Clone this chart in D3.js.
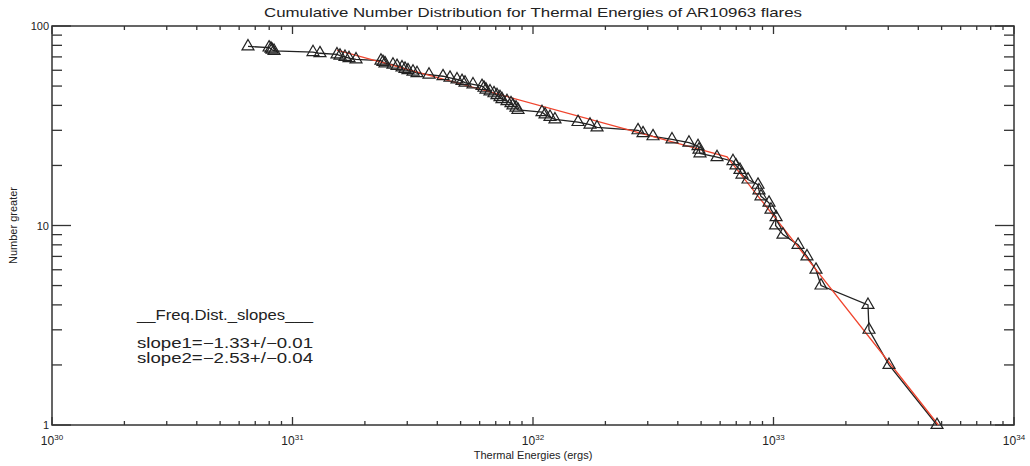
<!DOCTYPE html>
<html>
<head>
<meta charset="utf-8">
<script src="https://cdn.jsdelivr.net/npm/d3@7"></script>
<style>
  body { margin: 0; background: #fff; }
  svg { display: block; }
  text { font-family: "Liberation Sans", Arial, sans-serif; fill: #222; }
</style>
</head>
<body>
<svg id="chart" width="1030" height="466"></svg>
<script>
// ---------------- data ----------------
const energies = [
  6.53e30, 7.99e30, 8.14e30, 8.22e30, 8.38e30, 1.217e31, 1.301e31, 1.531e31, 1.576e31, 1.653e31,
  1.718e31, 1.837e31, 2.333e31, 2.378e31, 2.424e31, 2.617e31, 2.720e31, 2.853e31, 2.936e31, 3.021e31,
  3.170e31, 3.294e31, 3.695e31, 4.225e31, 4.517e31, 4.831e31, 5.068e31, 5.216e31, 5.630e31, 6.137e31,
  6.256e31, 6.377e31, 6.626e31, 6.884e31, 7.085e31, 7.291e31, 7.432e31, 7.796e31, 8.100e31, 8.256e31,
  8.497e31, 8.661e31, 1.090e32, 1.122e32, 1.177e32, 1.234e32, 1.539e32, 1.726e32, 1.846e32, 2.733e32,
  2.867e32, 3.155e32, 3.784e32, 4.452e32, 4.855e32, 4.900e32, 4.948e32, 5.823e32, 6.785e32, 6.983e32,
  7.255e32, 7.396e32, 7.834e32, 8.620e32, 8.703e32, 8.871e32, 9.579e32, 9.763e32, 1.025e33, 1.020e33,
  1.095e33, 1.265e33, 1.378e33, 1.502e33, 1.576e33, 2.471e33, 2.495e33, 3.022e33, 4.785e33
];
const counts = [
  79, 78, 77, 76, 75, 74, 73, 72, 71, 70,
  69, 68, 67, 66, 65, 64, 63, 62, 61, 60,
  59, 58, 57, 56, 55, 54, 53, 52, 51, 50,
  49, 48, 47, 46, 45, 44, 43, 42, 41, 40,
  39, 38, 37, 36, 35, 34, 33, 32, 31, 30,
  29, 28, 27, 26, 25, 24, 23, 22, 21, 20,
  19, 18, 17, 16, 15, 14, 13, 12, 11, 10,
  9, 8, 7, 6, 5, 4, 3, 2, 1
];
// broken power-law fit (red)
const fitEnergies = [1.53e31, 6.41e32, 4.85e33];
const fitCounts = [75.8, 22.1, 1.0];

const xDomain = [1e30, 1e34];
const yDomain = [1, 100];
const xMajorTicks = [1e30, 1e31, 1e32, 1e33, 1e34];
const xTickExponents = ["30", "31", "32", "33", "34"];
const yMajorTicks = [1, 10, 100];
const yTickLabels = ["1", "10", "100"];

const titleText = "Cumulative Number Distribution for Thermal Energies of AR10963 flares";
const xLabel = "Thermal Energies (ergs)";
const yLabel = "Number greater";
const legendLines = ["__Freq.Dist._slopes___", "slope1=\u22121.33+/\u22120.01", "slope2=\u22122.53+/\u22120.04"];

// ---------------- layout ----------------
const L = 52, R = 1014, T = 26, B = 425;
const svg = d3.select("#chart");
const x = d3.scaleLog().domain(xDomain).range([L, R]);
const y = d3.scaleLog().domain(yDomain).range([B, T]);

const axisColor = "#333";

function minors(domain) {
  const out = [];
  for (let e = Math.log10(domain[0]); e < Math.log10(domain[1]); e++) {
    for (let m = 2; m <= 9; m++) out.push(m * Math.pow(10, e));
  }
  return out;
}
const xMinor = minors(xDomain);
const yMinor = minors(yDomain);

const xMajLen = 8, xMinLen = 4, yMajLen = 19, yMinLen = 10;

const g = svg.append("g").attr("stroke", axisColor).attr("stroke-width", 1.3);
[[B, -1], [T, 1]].forEach(([yy, dir]) => {
  g.selectAll(null).data(xMajorTicks).enter().append("line")
    .attr("x1", d => x(d)).attr("x2", d => x(d))
    .attr("y1", yy).attr("y2", yy + dir * xMajLen);
  g.selectAll(null).data(xMinor).enter().append("line")
    .attr("x1", d => x(d)).attr("x2", d => x(d))
    .attr("y1", yy).attr("y2", yy + dir * xMinLen);
});
[[L, 1], [R, -1]].forEach(([xx, dir]) => {
  g.selectAll(null).data(yMajorTicks).enter().append("line")
    .attr("y1", d => y(d)).attr("y2", d => y(d))
    .attr("x1", xx).attr("x2", xx + dir * yMajLen);
  g.selectAll(null).data(yMinor).enter().append("line")
    .attr("y1", d => y(d)).attr("y2", d => y(d))
    .attr("x1", xx).attr("x2", xx + dir * yMinLen);
});
svg.append("rect").attr("x", L).attr("y", T).attr("width", R - L).attr("height", B - T)
  .attr("fill", "none").attr("stroke", axisColor).attr("stroke-width", 1.5);

// tick labels
const xl = svg.selectAll(".xtl").data(xMajorTicks).enter().append("text")
  .attr("class", "xtl")
  .attr("x", d => x(d)).attr("y", B + 20)
  .attr("text-anchor", "middle").attr("font-size", 12);
xl.append("tspan").text("10");
xl.append("tspan").attr("dy", -5).attr("font-size", 8).text((d, i) => xTickExponents[i]);

svg.selectAll(".ytl").data(yMajorTicks).enter().append("text")
  .attr("class", "ytl")
  .attr("x", L - 3).attr("y", d => y(d) + 4)
  .attr("text-anchor", "end").attr("font-size", 11)
  .text((d, i) => yTickLabels[i]);

const narrow = "DejaVu Sans Condensed, Liberation Sans Narrow, sans-serif";
svg.append("text").attr("x", (L + R) / 2).attr("y", 17).attr("text-anchor", "middle")
  .attr("font-size", 13).attr("font-family", narrow)
  .attr("textLength", 538).attr("lengthAdjust", "spacingAndGlyphs").text(titleText);
svg.append("text").attr("x", (L + R) / 2).attr("y", 459).attr("text-anchor", "middle")
  .attr("font-size", 11).attr("font-family", narrow)
  .text(xLabel);
svg.append("text").attr("transform", `translate(17,${(T + B) / 2}) rotate(-90)`)
  .attr("text-anchor", "middle").attr("font-size", 11)
  .attr("font-family", narrow)
  .text(yLabel);

// data line
const pts = energies.map((e, i) => [e, counts[i]]);
const line = d3.line().x(d => x(d[0])).y(d => y(d[1]));
svg.append("path").datum(pts).attr("d", line)
  .attr("fill", "none").attr("stroke", "#222").attr("stroke-width", 1.3);

// fit line
const fitPts = fitEnergies.map((e, i) => [e, fitCounts[i]]);
svg.append("path").datum(fitPts).attr("d", line)
  .attr("fill", "none").attr("stroke", "#f0452e").attr("stroke-width", 1.3);

// triangles
const tri = d3.symbol().type(d3.symbolTriangle).size(62);
svg.selectAll(".pt").data(pts).enter().append("path")
  .attr("class", "pt")
  .attr("transform", d => `translate(${x(d[0])},${y(d[1])})`)
  .attr("d", tri)
  .attr("fill", "none").attr("stroke", "#222").attr("stroke-width", 1.2);

// legend text
const lg = svg.append("g").attr("font-family", "DejaVu Sans, sans-serif").attr("font-size", 14);
lg.append("text").attr("x", 137).attr("y", 320).attr("textLength", 176)
  .attr("lengthAdjust", "spacingAndGlyphs").text(legendLines[0]);
lg.append("text").attr("x", 137).attr("y", 348).attr("textLength", 176)
  .attr("lengthAdjust", "spacingAndGlyphs").text(legendLines[1]);
lg.append("text").attr("x", 137).attr("y", 363).attr("textLength", 176)
  .attr("lengthAdjust", "spacingAndGlyphs").text(legendLines[2]);
</script>
</body>
</html>
